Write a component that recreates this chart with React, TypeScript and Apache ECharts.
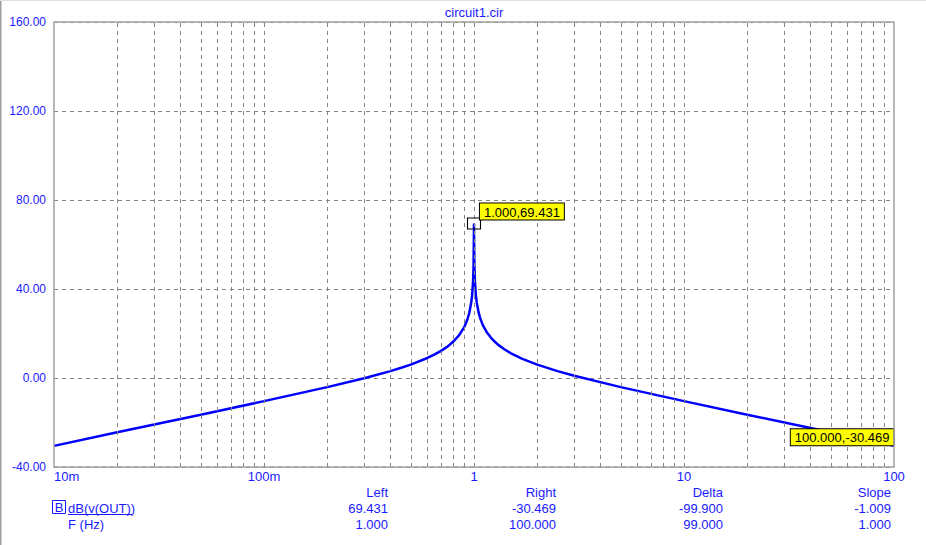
import React, { useEffect, useRef } from "react";
import * as echarts from "echarts";

const freqs = [
  0.01, 0.02, 0.05, 0.1, 0.2, 0.3, 0.4, 0.45, 0.5, 0.6, 0.65, 0.7, 0.75, 0.8, 0.85, 0.9, 0.93, 0.95, 0.97, 0.98, 0.99, 0.995, 0.999,
  1.0, 1.001, 1.005, 1.01, 1.02, 1.03, 1.05, 1.07, 1.1, 1.15, 1.2, 1.25, 1.3, 1.4, 1.5, 1.7, 2, 2.5, 3, 5, 10, 20, 50, 100,
];
const dbValues = [
  -30.5, -24.4, -16.5, -10.4, -4.1, -0.1, 3.1, 4.6, 6.0, 9.0, 10.6, 12.3, 14.2, 16.5, 19.3, 23.0, 26.3, 29.3, 33.9, 37.4, 43.5, 49.5, 63.5,
  69.431, 63.5, 49.6, 43.6, 37.6, 34.1, 29.8, 26.9, 23.9, 20.6, 18.3, 16.5, 15.0, 12.8, 11.1, 8.6, 6.0, 3.1, 1.0, -4.1, -10.4, -16.5, -24.4, -30.469,
];
const minorGridFreqs = [
  0.02, 0.03, 0.04, 0.05, 0.06, 0.07, 0.08, 0.09, 0.1,
  0.2, 0.3, 0.4, 0.5, 0.6, 0.7, 0.8, 0.9, 1,
  2, 3, 4, 5, 6, 7, 8, 9, 10,
  20, 30, 40, 50, 60, 70, 80, 90,
];
const xTickLabels: Record<string, string> = { "0.01": "10m", "0.1": "100m", "1": "1", "10": "10", "100": "100" };
const peakPoint = [1.0, 69.431];
const endPoint = [100.0, -30.469];
const tableHeaders = ["Left", "Right", "Delta", "Slope"];
const tableRow1 = ["69.431", "-30.469", "-99.900", "-1.009"];
const tableRow2 = ["1.000", "100.000", "99.000", "1.000"];
const titleText = "circuit1.cir";
const traceName = "dB(v(OUT))";
const xName = "F (Hz)";

const BLUE = "#1a1aff";
const FONT = "Arial, 'Liberation Sans', sans-serif";

export default function App() {
  const ref = useRef<HTMLDivElement>(null);
  useEffect(() => {
    document.body.style.margin = "0";
    const chart = echarts.init(ref.current!, null, { renderer: "svg" });
    const curve = freqs.map((f, i) => [f, dbValues[i]]);
    const colX = [388, 556, 723, 891];
    const tableTexts: any[] = [];
    colX.forEach((x, i) => {
      [tableHeaders[i], tableRow1[i], tableRow2[i]].forEach((t, r) => {
        tableTexts.push({
          type: "text",
          x,
          y: 492 + r * 16,
          style: { text: t, fill: BLUE, font: `13px ${FONT}`, textAlign: "right", textVerticalAlign: "middle" },
        });
      });
    });
    chart.setOption({
      animation: false,
      backgroundColor: "#ffffff",
      grid: { left: 54, top: 22, right: 32, bottom: 78, show: true, borderColor: "#a0a0a0", borderWidth: 1.5, backgroundColor: "transparent", z: 10 },
      xAxis: {
        type: "log",
        logBase: 10,
        min: 0.01,
        max: 100,
        axisLine: { show: false },
        axisTick: { show: false },
        splitLine: { show: false },
        axisLabel: {
          color: BLUE,
          fontSize: 13,
          fontFamily: FONT,
          margin: 3,
          alignMinLabel: "left",
          formatter: (v: number) => {
            const key = String(Number(v.toPrecision(6)));
            return xTickLabels[key] ?? "";
          },
        },
      },
      yAxis: {
        type: "value",
        min: -40,
        max: 160,
        interval: 40,
        axisLine: { show: false },
        axisTick: { show: false },
        axisLabel: { color: BLUE, fontSize: 12, fontFamily: FONT, margin: 8, formatter: (v: number) => v.toFixed(2) },
        splitLine: { show: true, lineStyle: { color: "#858585", type: [4, 4], width: 1 } },
      },
      series: [
        {
          type: "line",
          data: curve,
          showSymbol: false,
          silent: true,
          lineStyle: { opacity: 0, width: 0 },
          z: 1,
          markLine: {
            silent: true,
            symbol: ["none", "none"],
            label: { show: false },
            lineStyle: { color: "#858585", type: [4, 4], width: 1 },
            data: minorGridFreqs.map((f) => ({ xAxis: f })),
          },
        },
        {
          type: "line",
          data: curve,
          showSymbol: false,
          smooth: false,
          lineStyle: { color: "#0000ff", width: 2.5 },
          z: 3,
          markPoint: {
            silent: true,
            data: [
              {
                coord: peakPoint,
                symbol: "rect",
                symbolSize: [13, 11],
                itemStyle: { color: "rgba(0,0,0,0)", borderColor: "#000", borderWidth: 1 },
                label: {
                  show: true,
                  position: [13, -14],
                  formatter: `${peakPoint[0].toFixed(3)},${peakPoint[1].toFixed(3)}`,
                  color: "#000",
                  fontSize: 13,
                  fontFamily: FONT,
                  backgroundColor: "#ffff00",
                  borderColor: "#000",
                  borderWidth: 1,
                  padding: [2, 4, 1, 4],
                },
              },
              {
                coord: endPoint,
                symbol: "rect",
                symbolSize: 1,
                itemStyle: { color: "rgba(0,0,0,0)" },
                label: {
                  show: true,
                  position: [0, 0],
                  align: "right",
                  verticalAlign: "bottom",
                  formatter: `${endPoint[0].toFixed(3)},${endPoint[1].toFixed(3)}`,
                  color: "#000",
                  fontSize: 13,
                  fontFamily: FONT,
                  backgroundColor: "#ffff00",
                  borderColor: "#000",
                  borderWidth: 1,
                  padding: [2, 4, 1, 4],
                },
              },
            ],
          },
        },
      ],
      graphic: [
        { type: "line", shape: { x1: 0.5, y1: 0, x2: 0.5, y2: 545 }, style: { stroke: "#a0a0a0", lineWidth: 2 } },
        { type: "line", shape: { x1: 0, y1: 0.5, x2: 926, y2: 0.5 }, style: { stroke: "#e0e0e0", lineWidth: 1 } },
        {
          type: "text",
          x: 474,
          y: 12,
          style: { text: titleText, fill: BLUE, font: `13px ${FONT}`, textAlign: "center", textVerticalAlign: "middle" },
        },
        { type: "rect", shape: { x: 52.5, y: 500.5, width: 13, height: 13 }, style: { fill: "none", stroke: BLUE, lineWidth: 1 } },
        {
          type: "text",
          x: 59,
          y: 507.5,
          style: { text: "B", fill: BLUE, font: `13px ${FONT}`, textAlign: "center", textVerticalAlign: "middle" },
        },
        {
          type: "text",
          x: 68,
          y: 508,
          style: { text: traceName, fill: BLUE, font: `13px ${FONT}`, textAlign: "left", textVerticalAlign: "middle" },
        },
        { type: "line", shape: { x1: 68, y1: 514.5, x2: 132, y2: 514.5 }, style: { stroke: BLUE, lineWidth: 1 } },
        {
          type: "text",
          x: 68,
          y: 524,
          style: { text: xName, fill: BLUE, font: `13px ${FONT}`, textAlign: "left", textVerticalAlign: "middle" },
        },
        ...tableTexts,
      ],
    });
    return () => chart.dispose();
  }, []);
  return <div ref={ref} style={{ width: 926, height: 545 }} />;
}
